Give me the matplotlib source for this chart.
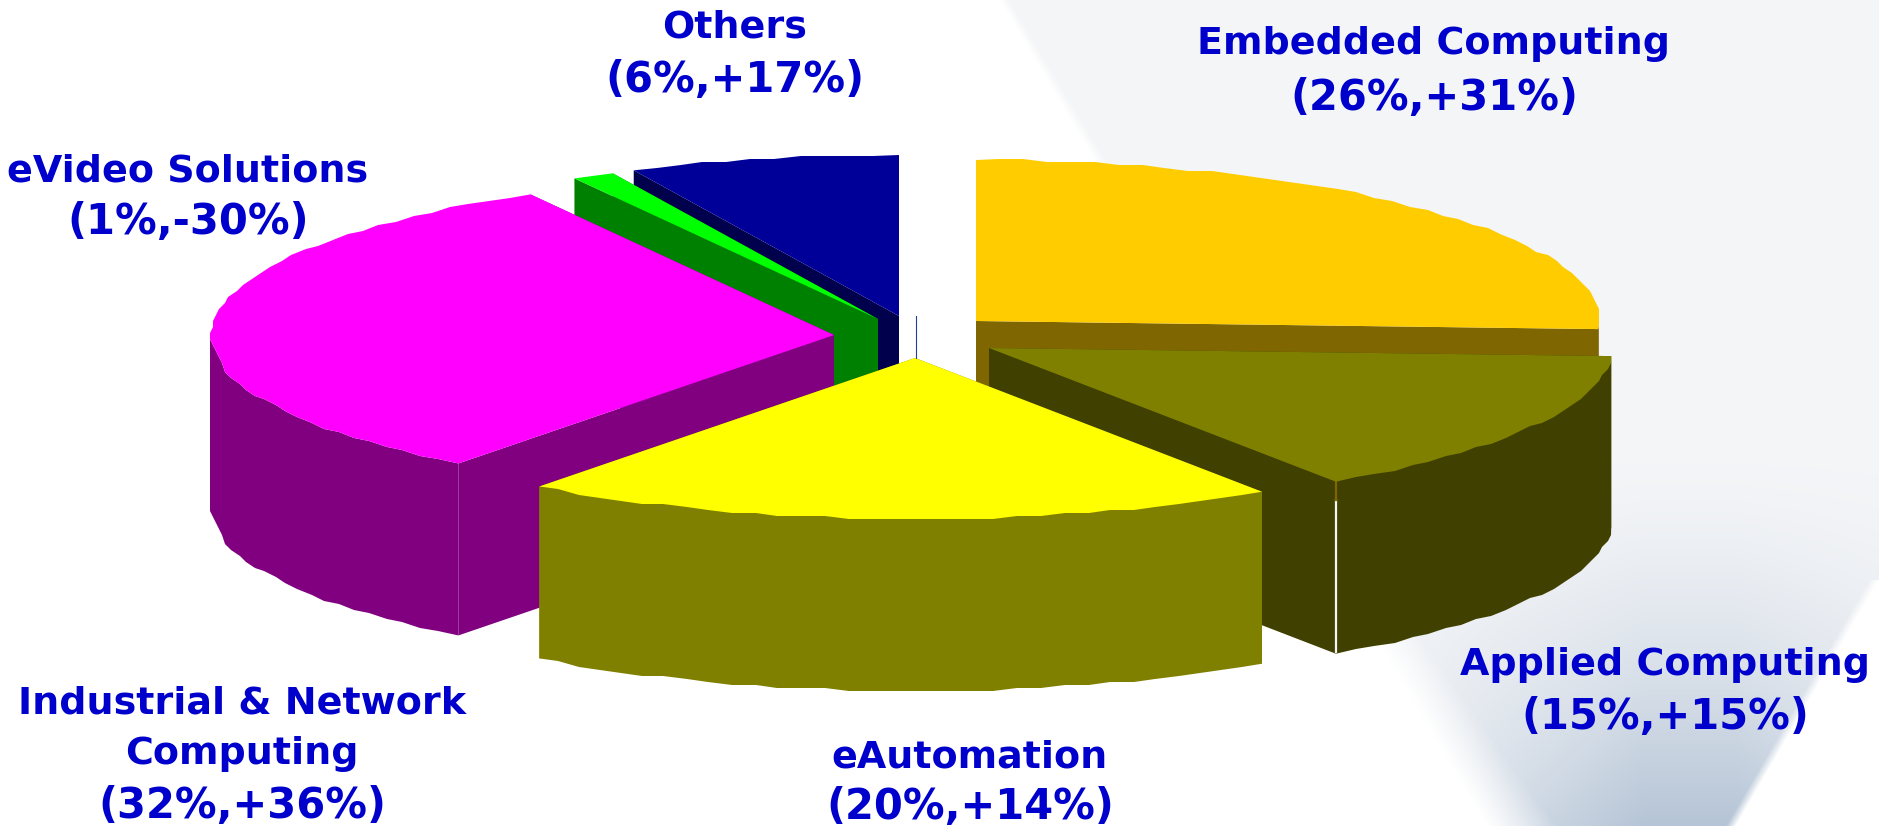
#!/usr/bin/env python3
import numpy as np
import matplotlib

matplotlib.use("Agg")
import matplotlib.pyplot as plt
from matplotlib.patches import Polygon

segments = ["Embedded", "Applied", "eAutomation", "Industrial", "eVideo", "Others"]
shares = [25.8, 14.8, 19.7, 31.6, 1.1, 7.0]

label_lines = [
    ["Embedded Computing", "(26%,+31%)"],
    ["Applied Computing", "(15%,+15%)"],
    ["eAutomation", "(20%,+14%)"],
    ["Industrial & Network", "Computing", "(32%,+36%)"],
    ["eVideo Solutions", "(1%,-30%)"],
    ["Others", "(6%,+17%)"],
]

# Exploded slice apex positions, in pixels of the picture
apex_x = [976, 989, 915, 834, 878, 899]
apex_y = [321, 348, 358, 335, 319, 316]
top_colors = ["#FFCC00", "#808000", "#FFFF00", "#FF00FF", "#00FF00", "#000099"]
side_colors = ["#806600", "#404000", "#808000", "#800080", "#008000", "#00004D"]
label_x = [1434, 1665, 970, 242, 188, 735]
label_y = [
    [44, 98],
    [665, 717],
    [757, 807],
    [703, 754, 806],
    [171, 222],
    [27, 80],
]

RX, RY, DEPTH = 623, 161, 172
W, H = 1879, 826
TEXT_COLOR = "#0000CC"

fig = plt.figure(figsize=(W / 100, H / 100), dpi=100, facecolor="white")
ax = fig.add_axes([0, 0, 1, 1])
ax.set_xlim(0, W)
ax.set_ylim(H, 0)
ax.axis("off")

# --- Pale backdrop wedge, top right of the slide ---
gx, gy = np.meshgrid(np.arange(W) + 0.5, np.arange(H) + 0.5)
left_edge = 1000 + gy * (1487 - 1000) / 826
right_edge = np.where(gy < 580, W + 30, 1879 + (gy - 580) * (1736 - 1879) / 246)
soft = 10 + 60 * (gy / H) ** 2
alpha = np.clip((gx - left_edge) / soft, 0, 1) * np.clip((right_edge - gx) / 10, 0, 1)
# darkens toward the bottom of the wedge
shade = np.clip((gy - 440) / 386, 0, 1) ** 1.6
shade = shade * np.clip(1.15 - np.abs(gx - 1690) / 300, 0.2, 1)
light = np.array([0.958, 0.963, 0.972])
dark = np.array([0.71, 0.77, 0.84])
rgba = np.zeros((H, W, 4))
for i in range(3):
    rgba[..., i] = light[i] + (dark[i] - light[i]) * shade
rgba[..., 3] = alpha
ax.imshow(rgba, extent=(0, W, H, 0), aspect="auto", zorder=0, interpolation="bilinear")


def rim(cx, cy, a0, a1):
    n = max(2, int((a1 - a0) / 2.2) + 1)
    a = np.linspace(a0, a1, n)
    t = np.radians(a)
    x, y = cx + RX * np.sin(t), cy - RY * np.cos(t)
    # the source rim is slightly rippled, not smooth
    x[1:-1] = np.round(x[1:-1] / 3) * 3
    y[1:-1] = np.round(y[1:-1] / 3) * 3
    return a, x, y


def draw_slice(i, a0, a1, z):
    cx, cy = apex_x[i], apex_y[i]
    a, x, y = rim(cx, cy, a0, a1)
    for ex, ey in [(x[0], y[0]), (x[-1], y[-1])]:
        face = [(cx, cy), (ex, ey), (ex, ey + DEPTH), (cx, cy + DEPTH)]
        ax.add_patch(Polygon(face, fc=side_colors[i], ec="none", zorder=z))
    # only the front half of the rim shows its wall, up to the leftmost rim point
    front = (a >= 88) & (a <= 273)
    if front.sum() > 1:
        last = np.flatnonzero(front)[-1]
        end = last if a1 <= 273 else int(np.argmin(x))
        keep = np.flatnonzero(front)
        keep = keep[keep <= end]
        bx, by = x[keep], y[keep]
        band = np.r_[np.c_[bx, by], np.c_[bx, by + DEPTH][::-1]]
        ax.add_patch(Polygon(band, fc=side_colors[i], ec="none", zorder=z))
    top = np.r_[[[cx, cy]], np.c_[x, y]]
    ax.add_patch(Polygon(top, fc=top_colors[i], ec="none", zorder=z + 0.5))


# Cumulative angles, clockwise from 12 o'clock
edges = np.r_[0, np.cumsum(shares)] * 3.6
# back slices first, the front slice last
draw_order = [5, 4, 0, 3, 1, 2]
for z, i in enumerate(draw_order, start=1):
    draw_slice(i, edges[i], edges[i + 1], z)

# White seam and brown stub where the Applied faces meet
tip_t = np.radians(edges[2])
tip_x = apex_x[1] + RX * np.sin(tip_t)
tip_y = apex_y[1] - RY * np.cos(tip_t)
ax.plot([tip_x, tip_x], [tip_y + 18, tip_y + DEPTH - 2], color="#F4F4F4", lw=1.6, zorder=5.2)
ax.plot([tip_x, tip_x], [tip_y, tip_y + 18], color="#806600", lw=1.6, zorder=5.2)

# Stray leader line above the front slice
ax.plot([916, 916], [316, 358], color="#1F3FA0", lw=0.8, zorder=8)

# --- Labels ---
for lines, lx, lys in zip(label_lines, label_x, label_y):
    for line, ly in zip(lines, lys):
        # the bracketed figures are set larger than the names
        size = 30 if line.startswith("(") else 27.4
        ax.text(
            lx, ly, line, color=TEXT_COLOR, fontsize=size, fontweight="bold",
            family="DejaVu Sans", ha="center", va="center", zorder=10,
        )

fig.savefig("out.png", dpi=100, facecolor="white")
